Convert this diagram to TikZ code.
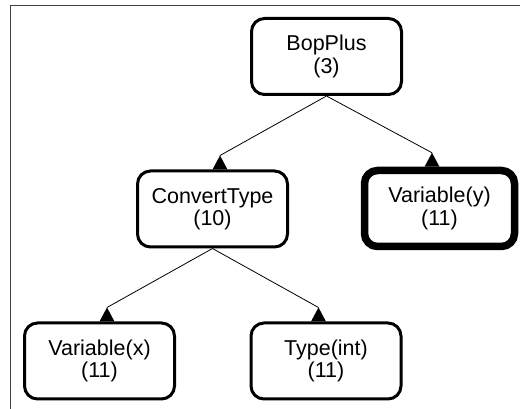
\documentclass[tikz,border=0pt]{standalone}
\usepackage{fontspec}
\setmainfont{Liberation Sans}
\usetikzlibrary{calc}
\begin{document}
\begin{tikzpicture}[x=1pt,y=1pt,
  treenode/.style={draw=black, line width=3pt, rounded corners=13pt, fill=white,
    minimum width=150pt, minimum height=76pt, inner sep=0pt, align=center,
    font=\fontsize{21.5}{22.5}\selectfont},
  boldnode/.style={treenode, line width=7.5pt},
  edgeline/.style={draw=black, line width=0.8pt},
  headfill/.style={fill=black}
]
\useasboundingbox (0,0) rectangle (520,409);
% frame
\draw[line width=1.5pt, black!75] (520,403.5) -- (10.5,403.5) -- (10.5,0);
% nodes
\node[treenode] (bop) at (326.5,352.5) {BopPlus\\(3)};
\node[treenode] (conv) at (212.5,200) {ConvertType\\(10)};
\node[boldnode] (vary) at (439.5,200.5) {Variable(y)\\(11)};
\node[treenode] (varx) at (99.5,48) {Variable(x)\\(11)};
\node[treenode] (typ) at (326,48) {Type(int)\\(11)};
% arrow apexes
\coordinate (aconv) at ($(conv.north)+(7.5,14)$);
\coordinate (avary) at ($(vary.north)+(-7.5,14)$);
\coordinate (avarx) at ($(varx.north)+(7.5,14)$);
\coordinate (atyp)  at ($(typ.north)+(-7.5,14)$);
% connectors
\draw[edgeline] (bop.south) -- (aconv);
\draw[edgeline] (bop.south) -- (avary);
\draw[edgeline] (conv.south) -- (avarx);
\draw[edgeline] (conv.south) -- (atyp);
% heads
\foreach \a in {aconv,avary,avarx,atyp}{
  \fill[headfill] (\a) -- ++(-7.5,-14) -- ++(15,0) -- cycle;
}
\end{tikzpicture}
\end{document}
